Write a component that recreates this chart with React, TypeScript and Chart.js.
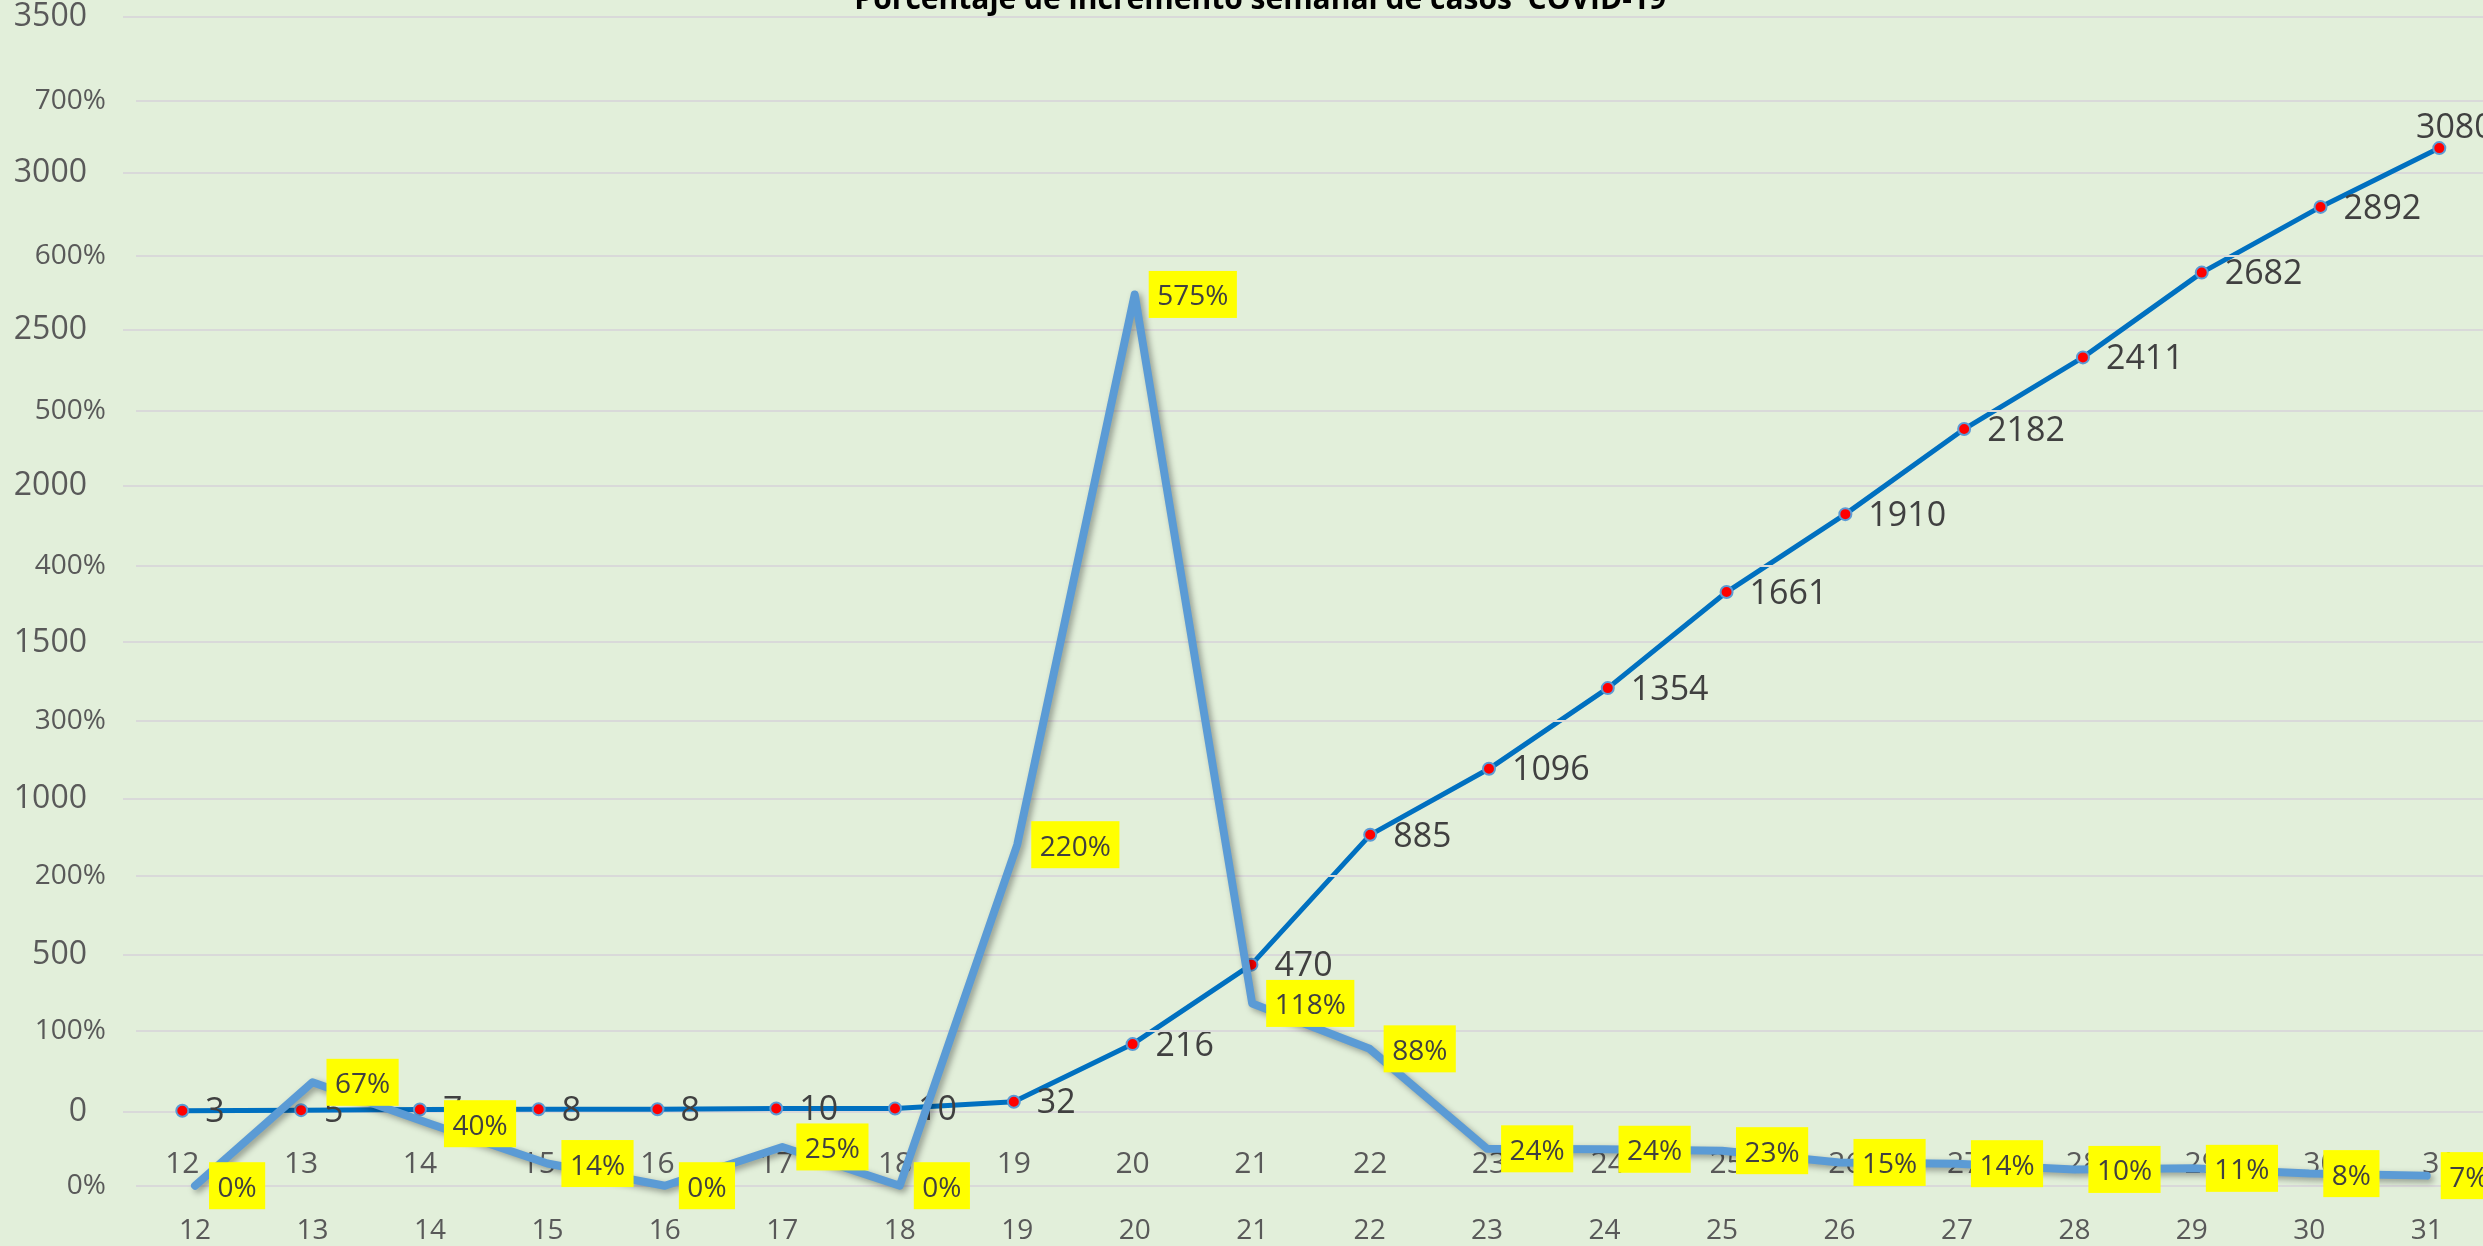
import React, { useEffect, useRef } from 'react';
import { Chart, registerables } from 'chart.js';

Chart.register(...registerables);

// ---- data ----
const weeks = ['12', '13', '14', '15', '16', '17', '18', '19', '20', '21', '22', '23', '24', '25', '26', '27', '28', '29', '30', '31'];
const cumulativeCases = [3, 5, 7, 8, 8, 10, 10, 32, 216, 470, 885, 1096, 1354, 1661, 1910, 2182, 2411, 2682, 2892, 3080];
const weeklyIncreasePct = [0, 66.7, 40, 14.3, 0, 25, 0, 220, 575, 117.6, 88.3, 23.8, 23.5, 22.6, 15.0, 14.2, 10.49, 11.2, 7.8, 6.5];
const casesAxis = { min: 0, max: 3500, step: 500 };
const pctAxis = { min: 0, max: 700, step: 100 };
const chartTitle = 'Porcentaje de incremento semanal de casos  COVID-19';

const FONT = "'Open Sans', sans-serif";
const AXIS_COLOR = '#595959';
const LABEL_COLOR = '#404040';
const GRID_COLOR = '#D9D9D9';

const caseLabelsPlugin = {
  id: 'caseLabels',
  afterDatasetsDraw(chart: any) {
    const meta = chart.getDatasetMeta(0);
    const ctx = chart.ctx;
    ctx.save();
    ctx.font = `34px ${FONT}`;
    ctx.fillStyle = LABEL_COLOR;
    ctx.textBaseline = 'middle';
    ctx.textAlign = 'left';
    meta.data.forEach((pt: any, i: number) => {
      const text = String(cumulativeCases[i]);
      const w = ctx.measureText(text).width;
      let x = pt.x + 23;
      let y = pt.y + 2;
      if (x + w > chart.chartArea.right - 5) {
        x = chart.chartArea.right - 5 - w;
        y = pt.y - 20;
      }
      ctx.fillText(text, x, y);
    });
    ctx.restore();
  },
};

const pctLabelsPlugin = {
  id: 'pctLabels',
  afterDatasetsDraw(chart: any) {
    const meta = chart.getDatasetMeta(0);
    const ctx = chart.ctx;
    ctx.save();
    ctx.font = `28px ${FONT}`;
    ctx.textBaseline = 'middle';
    ctx.textAlign = 'left';
    meta.data.forEach((pt: any, i: number) => {
      const text = `${Math.round(weeklyIncreasePct[i])}%`;
      const w = ctx.measureText(text).width;
      const bw = w + 17;
      const bh = 47;
      const bx = pt.x + 14;
      const by = pt.y - bh / 2;
      ctx.fillStyle = '#FFFF00';
      ctx.fillRect(bx, by, bw, bh);
      ctx.fillStyle = LABEL_COLOR;
      ctx.fillText(text, bx + 8.5, pt.y + 3);
    });
    ctx.restore();
  },
};

const shadowPlugin = {
  id: 'lineShadow',
  beforeDatasetDraw(chart: any) {
    const ctx = chart.ctx;
    ctx.save();
    ctx.shadowColor = 'rgba(0,0,0,0.35)';
    ctx.shadowBlur = 6;
    ctx.shadowOffsetX = 3;
    ctx.shadowOffsetY = 3;
  },
  afterDatasetDraw(chart: any) {
    chart.ctx.restore();
  },
};

export default function App() {
  const casesRef = useRef<HTMLCanvasElement>(null);
  const pctRef = useRef<HTMLCanvasElement>(null);

  useEffect(() => {
    const cA = casesRef.current!;
    const cB = pctRef.current!;

    const chartA = new Chart(cA, {
      type: 'line',
      data: {
        labels: weeks,
        datasets: [
          {
            data: cumulativeCases,
            borderColor: '#0070C0',
            borderWidth: 5,
            borderJoinStyle: 'round',
            borderCapStyle: 'round',
            pointRadius: 6,
            pointBorderWidth: 2,
            pointBackgroundColor: '#FF0000',
            pointBorderColor: '#5B9BD5',
            tension: 0,
            clip: false,
          } as any,
        ],
      },
      options: {
        responsive: false,
        animation: false,
        devicePixelRatio: 1,
        layout: { padding: { top: 116.7, left: 0, right: 101.3, bottom: 88.3 } },
        plugins: { legend: { display: false }, tooltip: { enabled: false }, title: { display: false } },
        scales: {
          x: {
            offset: true,
            grid: { display: false },
            border: { display: false },
            ticks: {
              color: AXIS_COLOR,
              font: { family: FONT, size: 30 },
              padding: 27,
              autoSkip: false,
              maxRotation: 0,
            },
            afterFit: (s: any) => { s.height = 100; },
          },
          y: {
            min: casesAxis.min,
            max: casesAxis.max,
            grid: { color: GRID_COLOR, lineWidth: 2, drawTicks: false },
            border: { display: false },
            ticks: {
              stepSize: casesAxis.step,
              color: AXIS_COLOR,
              font: { family: FONT, size: 32 },
              padding: 35.9,
              callback: (v: any) => String(v),
            },
            afterFit: (s: any) => { s.width = 122.9; },
          },
        },
      },
      plugins: [caseLabelsPlugin],
    } as any);

    const chartB = new Chart(cB, {
      type: 'line',
      data: {
        labels: weeks,
        datasets: [
          {
            data: weeklyIncreasePct,
            borderColor: '#5B9BD5',
            borderWidth: 8,
            borderJoinStyle: 'round',
            borderCapStyle: 'round',
            pointRadius: 0,
            tension: 0,
            clip: false,
          } as any,
        ],
      },
      options: {
        responsive: false,
        animation: false,
        devicePixelRatio: 1,
        layout: { padding: { top: 0, left: 0, right: 109.5, bottom: 34.3 } },
        plugins: {
          legend: { display: false },
          tooltip: { enabled: false },
          title: {
            display: true,
            text: chartTitle,
            color: '#000000',
            font: { family: FONT, size: 30, weight: 'bold', lineHeight: 1.2 },
            padding: { top: 82.7, bottom: 82 },
          },
        },
        scales: {
          x: {
            offset: true,
            grid: { display: false },
            border: { display: false },
            ticks: {
              color: AXIS_COLOR,
              font: { family: FONT, size: 28 },
              padding: 21,
              autoSkip: false,
              maxRotation: 0,
            },
            afterFit: (s: any) => { s.height = 80; },
          },
          y: {
            min: pctAxis.min,
            max: pctAxis.max,
            grid: { color: GRID_COLOR, lineWidth: 2, drawTicks: false },
            border: { display: false },
            ticks: {
              stepSize: pctAxis.step,
              color: AXIS_COLOR,
              font: { family: FONT, size: 28 },
              padding: 30.3,
              callback: (v: any) => `${v}%`,
            },
            afterFit: (s: any) => { s.width = 101.3; },
          },
        },
      },
      plugins: [shadowPlugin, pctLabelsPlugin],
    } as any);

    return () => {
      chartA.destroy();
      chartB.destroy();
    };
  }, []);

  return (
    <div
      style={{
        position: 'fixed',
        left: 0,
        top: 0,
        width: 2483,
        height: 1246,
        overflow: 'hidden',
        background: '#E2EFDA',
      }}
    >
      <canvas
        ref={casesRef}
        width={2600}
        height={1400}
        style={{ position: 'absolute', left: 0, top: -100, width: 2600, height: 1400 }}
      />
      <canvas
        ref={pctRef}
        width={2560}
        height={1400}
        style={{ position: 'absolute', left: 35, top: -100, width: 2560, height: 1400 }}
      />
    </div>
  );
}
